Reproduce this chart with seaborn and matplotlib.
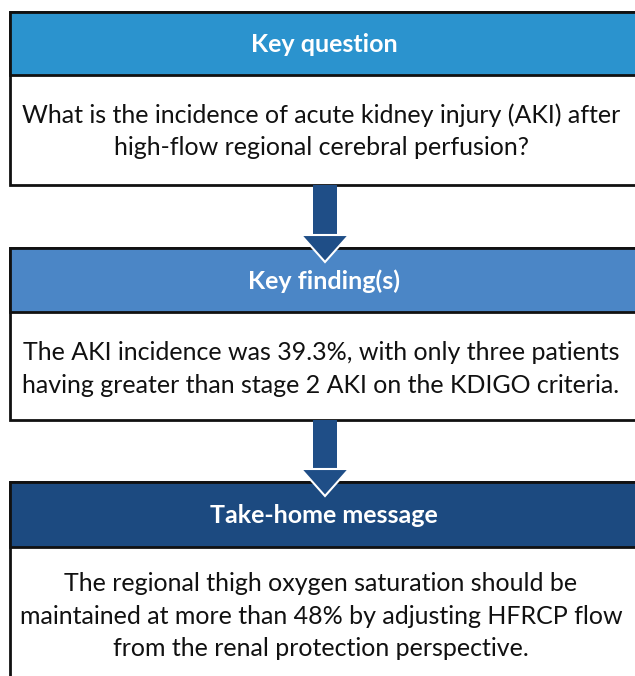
import matplotlib
matplotlib.use("Agg")
import matplotlib.pyplot as plt
from matplotlib.patches import Rectangle, Polygon
import seaborn as sns

# content of the three panels
titles = ["Key question", "Key finding(s)", "Take-home message"]
bodies = [
    "What is the incidence of acute kidney injury (AKI) after\nhigh-flow regional cerebral perfusion?",
    "The AKI incidence was 39.3%, with only three patients\nhaving greater than stage 2 AKI on the KDIGO criteria.",
    "The regional thigh oxygen saturation should be\nmaintained at more than 48% by adjusting HFRCP flow\nfrom the renal protection perspective.",
]
header_colors = ["#2B93CE", "#4B86C6", "#1C4A80"]
arrow_color = "#1F4E87"

# layout in pixel units (top, header bottom, box bottom, body text centre)
box_top = [12, 248, 482]
head_bot = [75, 312, 547]
box_bot = [185, 420, 690]
body_mid = [131, 369, 616]

sns.set_theme(style="white")
plt.rcParams["font.family"] = ["Lato", "DejaVu Sans"]

fig = plt.figure(figsize=(6.35, 6.76), dpi=100)
ax = fig.add_axes([0, 0, 1, 1])
ax.set_xlim(0, 635)
ax.set_ylim(676, 0)
ax.axis("off")

left, right = 10, 640
for i, (t, b) in enumerate(zip(titles, bodies)):
    ax.add_patch(Rectangle((left, box_top[i]), right - left, box_bot[i] - box_top[i],
                           facecolor="white", edgecolor="#111111", lw=2, zorder=1))
    ax.add_patch(Rectangle((left, box_top[i]), right - left, head_bot[i] - box_top[i],
                           facecolor=header_colors[i], edgecolor="#111111", lw=2, zorder=2))
    ax.text(324, (box_top[i] + head_bot[i]) / 2 + 1, t, color="white", fontsize=18,
            fontweight="bold", ha="center", va="center", zorder=4)
    ax.text(321, body_mid[i], b, color="#111111", fontsize=18, ha="center", va="center",
            linespacing=1.5, zorder=4)

# arrows between panels
cx = 325
for i in range(2):
    y0 = box_bot[i]
    y1 = box_top[i + 1]
    tip = y1 + 14
    ax.add_patch(Rectangle((cx - 12, y0), 24, (tip - 26) - y0,
                           facecolor=arrow_color, edgecolor="none", zorder=3))
    ax.add_patch(Polygon([(cx - 24, tip - 27), (cx + 24, tip - 27), (cx, tip)],
                         closed=True, facecolor=arrow_color, edgecolor="white",
                         lw=1.5, zorder=3))

fig.savefig("out.png", dpi=100)
